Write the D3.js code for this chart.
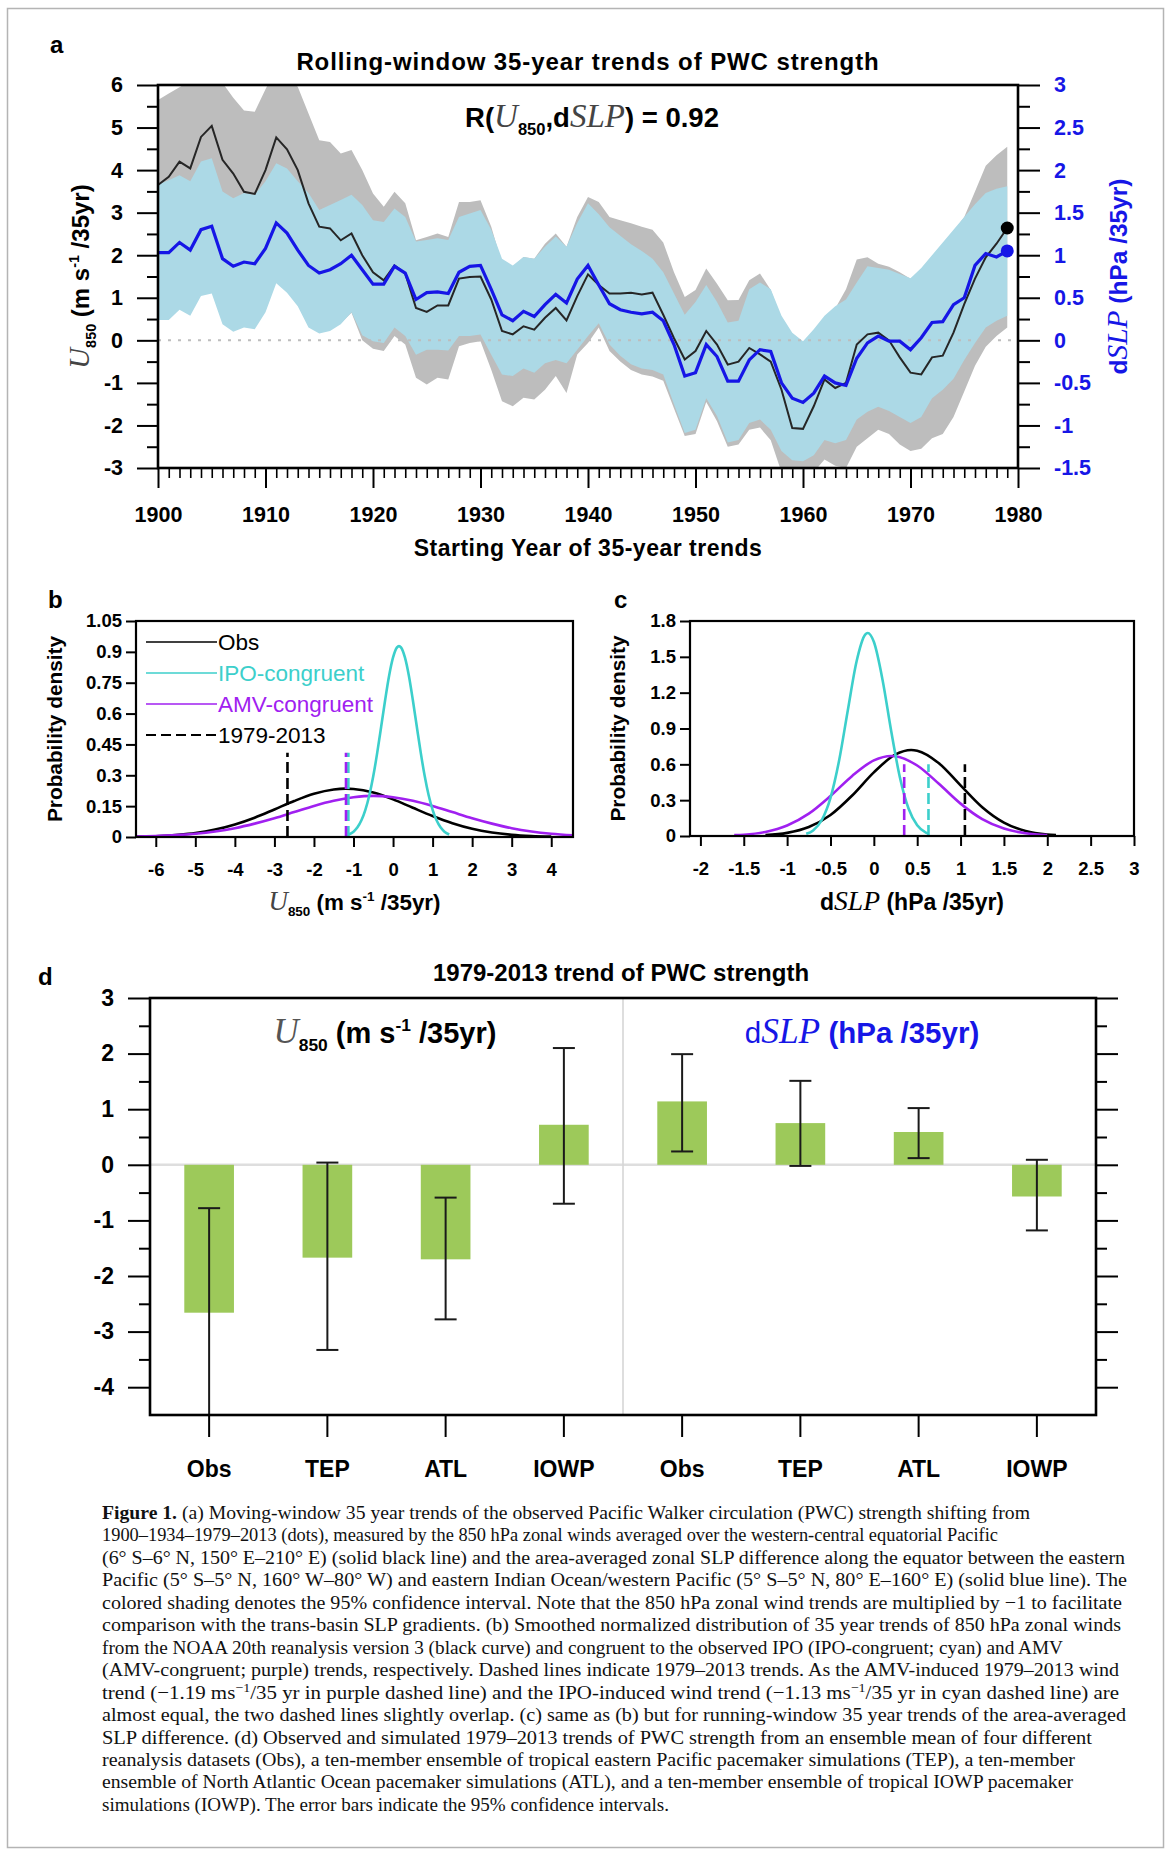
<!DOCTYPE html>
<html>
<head>
<meta charset="utf-8">
<script src="https://cdn.jsdelivr.net/npm/d3@7"></script>
<style>
  body { margin: 0; background: #fff; }
</style>
</head>
<body>
<svg id="fig" width="1171" height="1856" font-family="Liberation Sans, Arial, sans-serif"></svg>
<script>
// ---------- panel a : rolling 35-yr trends, one value per starting year 1900..1979
const startYears = d3.range(1900, 1980);
// U850 trend (m/s per 35yr) and its 95% interval
const u850 = [3.65, 3.84, 4.2, 4.04, 4.78, 5.04, 4.24, 3.92, 3.49, 3.44,
  4.0, 4.77, 4.49, 4.0, 3.22, 2.67, 2.63, 2.35, 2.51, 2.0,
  1.6, 1.41, 1.76, 1.57, 0.76, 0.67, 0.82, 0.82, 1.45, 1.49,
  1.5, 0.96, 0.22, 0.14, 0.33, 0.25, 0.53, 0.76, 0.47, 1.04,
  1.55, 1.3, 1.1, 1.1, 1.12, 1.08, 1.12, 0.6, 0.05, -0.45,
  -0.25, 0.22, -0.1, -0.57, -0.5, -0.18, -0.33, -0.5, -1.16, -2.06,
  -2.08, -1.55, -0.92, -1.12, -1.0, -0.1, 0.14, 0.18, 0.0, -0.4,
  -0.76, -0.8, -0.4, -0.36, 0.18, 0.85, 1.45, 1.95, 2.27, 2.64];
const u850Hi = [5.65, 5.8, 5.95, 6.1, 6.3, 6.4, 6.05, 5.7, 5.4, 5.37,
  5.9, 6.4, 6.2, 5.96, 5.33, 4.7, 4.66, 4.39, 4.47, 4.0,
  3.45, 3.14, 3.49, 3.22, 2.35, 2.43, 2.51, 2.43, 3.25, 3.25,
  3.29, 2.67, 1.8, 1.73, 1.96, 1.92, 2.27, 2.51, 2.2, 2.9,
  3.37, 3.25, 2.9, 2.82, 2.75, 2.67, 2.6, 2.3, 1.6, 1.02,
  1.18, 1.69, 1.33, 0.94, 0.95, 1.41, 1.57, 1.18, 0.5, 0.1,
  -0.1, 0.2, 0.5, 0.75, 1.2, 1.9, 1.95, 1.8, 1.73, 1.6,
  1.45, 1.65, 1.95, 2.2, 2.55, 2.9, 3.5, 4.1, 4.35, 4.55];
const u850Lo = [0.55, 0.55, 0.8, 0.65, 1.1, 1.2, 0.45, 0.3, 0.35, 0.3,
  0.7, 1.4, 1.2, 0.85, 0.35, 0.2, 0.25, 0.4, 0.65, 0.0,
  -0.2, -0.25, 0.1, -0.1, -0.88, -1.04, -0.88, -0.92, -0.14, -0.06,
  -0.02, -0.69, -1.43, -1.55, -1.35, -1.39, -1.16, -0.84, -1.24, -0.33,
  -0.06, 0.3, -0.25, -0.5, -0.7, -0.8, -0.85, -0.95, -1.6, -2.25,
  -2.2, -1.45, -1.9, -2.5, -2.45, -2.1, -2.05, -2.35, -3.1, -3.35,
  -3.35, -3.1, -2.8, -2.95, -3.0, -2.5, -2.3, -2.1, -2.2, -2.45,
  -2.6, -2.55, -2.3, -2.2, -1.8, -1.2, -0.6, -0.15, 0.1, 0.3];
// dSLP trend (hPa per 35yr) and its 95% interval
const dslp = [1.03, 1.03, 1.15, 1.06, 1.30, 1.34, 0.96, 0.87, 0.92, 0.90,
  1.08, 1.38, 1.26, 1.06, 0.88, 0.79, 0.83, 0.90, 1.00, 0.83,
  0.66, 0.66, 0.87, 0.79, 0.48, 0.56, 0.57, 0.55, 0.80, 0.87,
  0.88, 0.60, 0.30, 0.23, 0.34, 0.28, 0.42, 0.54, 0.44, 0.72,
  0.88, 0.65, 0.43, 0.36, 0.33, 0.31, 0.33, 0.23, -0.05, -0.42,
  -0.38, -0.05, -0.19, -0.48, -0.48, -0.23, -0.11, -0.13, -0.50, -0.68,
  -0.73, -0.62, -0.42, -0.50, -0.53, -0.21, -0.03, 0.05, -0.01, -0.01,
  -0.11, 0.03, 0.21, 0.22, 0.42, 0.50, 0.88, 1.02, 0.98, 1.05];
const dslpHi = [1.83, 1.88, 1.94, 1.87, 2.10, 2.14, 1.75, 1.67, 1.73, 1.71,
  1.87, 2.08, 2.02, 1.87, 1.73, 1.53, 1.59, 1.65, 1.71, 1.59,
  1.41, 1.39, 1.55, 1.45, 1.16, 1.18, 1.20, 1.18, 1.45, 1.49,
  1.53, 1.30, 0.96, 0.88, 0.98, 0.96, 1.10, 1.22, 1.10, 1.38,
  1.61, 1.48, 1.33, 1.23, 1.13, 1.05, 0.96, 0.80, 0.55, 0.30,
  0.45, 0.65, 0.45, 0.21, 0.23, 0.60, 0.68, 0.60, 0.29, 0.09,
  -0.01, 0.13, 0.29, 0.40, 0.48, 0.68, 0.87, 0.85, 0.83, 0.78,
  0.73, 0.85, 1.00, 1.15, 1.30, 1.45, 1.60, 1.73, 1.78, 1.81];
const dslpLo = [0.24, 0.24, 0.36, 0.29, 0.52, 0.55, 0.19, 0.10, 0.15, 0.13,
  0.33, 0.67, 0.56, 0.40, 0.15, 0.08, 0.11, 0.19, 0.33, 0.06,
  -0.01, -0.03, 0.15, 0.05, -0.17, -0.11, -0.11, -0.12, 0.05, 0.05,
  0.07, -0.17, -0.40, -0.42, -0.33, -0.38, -0.27, -0.23, -0.27, -0.11,
  0.05, 0.20, -0.05, -0.18, -0.28, -0.33, -0.35, -0.40, -0.75, -1.09,
  -1.05, -0.68, -0.89, -1.20, -1.17, -0.97, -0.93, -1.05, -1.30, -1.41,
  -1.42, -1.35, -1.17, -1.21, -1.17, -0.93, -0.84, -0.78, -0.83, -0.90,
  -0.97, -0.90, -0.68, -0.58, -0.45, -0.23, -0.03, 0.15, 0.23, 0.29];

// ---------- panel b : distributions of U850 trends, [trend, density]
const bObs = [[-6.5,0.002],[-6,0.004],[-5.5,0.010],[-5,0.019],[-4.5,0.036],[-4,0.061],[-3.5,0.094],[-3,0.134],
  [-2.5,0.175],[-2,0.210],[-1.5,0.231],[-1.2,0.235],[-1,0.233],[-0.5,0.216],[0,0.183],[0.5,0.142],[1,0.102],
  [1.5,0.067],[2,0.040],[2.5,0.022],[3,0.011],[3.5,0.005],[4,0.002]];
const bIpo = [[-1.12,0.012],[-1.0,0.026],[-0.9,0.047],[-0.8,0.081],[-0.7,0.132],[-0.6,0.203],[-0.5,0.296],
  [-0.4,0.410],[-0.3,0.537],[-0.2,0.666],[-0.1,0.784],[0,0.873],[0.1,0.922],[0.15,0.928],[0.2,0.922],[0.3,0.873],
  [0.4,0.784],[0.5,0.666],[0.6,0.537],[0.7,0.410],[0.8,0.296],[0.9,0.203],[1.0,0.132],[1.1,0.081],[1.2,0.047],
  [1.3,0.026],[1.42,0.012]];
const bAmv = [[-6.5,0.002],[-6,0.005],[-5.5,0.009],[-5,0.016],[-4.5,0.027],[-4,0.043],[-3.5,0.065],[-3,0.091],
  [-2.5,0.121],[-2,0.151],[-1.5,0.176],[-1,0.193],[-0.5,0.200],[0,0.193],[0.5,0.176],[1,0.151],[1.5,0.121],
  [2,0.091],[2.5,0.065],[3,0.043],[3.5,0.027],[4,0.016],[4.55,0.008]];
// 1979-2013 trends (dashed): obs, IPO-, AMV-congruent
const bRecent = [-2.67, -1.13, -1.19];

// ---------- panel c : distributions of dSLP trends
const cObs = [[-1.25,0.007],[-1,0.026],[-0.75,0.075],[-0.5,0.176],[-0.25,0.339],[0,0.533],[0.25,0.683],[0.43,0.720],
  [0.5,0.714],[0.75,0.609],[1,0.424],[1.25,0.241],[1.5,0.112],[1.75,0.042],[2,0.013],[2.1,0.008]];
const cIpo = [[-0.78,0.018],[-0.7,0.047],[-0.6,0.134],[-0.5,0.319],[-0.4,0.634],[-0.3,1.053],[-0.2,1.459],[-0.1,1.686],
  [-0.07,1.700],[0,1.626],[0.1,1.309],[0.2,0.879],[0.3,0.492],[0.4,0.230],[0.5,0.090],[0.6,0.029],[0.63,0.020]];
const cAmv = [[-1.61,0.007],[-1.5,0.011],[-1.25,0.034],[-1,0.088],[-0.75,0.187],[-0.5,0.335],[-0.25,0.503],[0,0.633],
  [0.2,0.670],[0.25,0.668],[0.5,0.590],[0.75,0.437],[1,0.271],[1.25,0.141],[1.5,0.062],[1.75,0.023],[2,0.007]];
const cRecent = [1.05, 0.63, 0.35];

// ---------- panel d : 1979-2013 trends with 95% intervals
const dCats = ["Obs", "TEP", "ATL", "IOWP", "Obs", "TEP", "ATL", "IOWP"];
const dTrend = [-2.66, -1.67, -1.70, 0.72, 1.14, 0.75, 0.59, -0.57];
const dLow = [-4.5, -3.33, -2.78, -0.70, 0.24, -0.02, 0.12, -1.18];
const dHigh = [-0.78, 0.04, -0.59, 2.10, 1.99, 1.51, 1.02, 0.09];

const BLUE = "#1616e6", CYAN = "#3ccfcb", PURPLE = "#a020f0", GREEN = "#9dc95a";
const SANS = "Liberation Sans, Arial, sans-serif", SERIF = "Liberation Serif, Times New Roman, serif";
const num = d => String(d);

const svg = d3.select("#fig");
svg.append("rect").attr("width", 1171).attr("height", 1856).attr("fill", "#fff");
svg.append("rect").attr("x", 7.5).attr("y", 8.5).attr("width", 1156).attr("height", 1839)
  .attr("fill", "none").attr("stroke", "#b4b4b4").attr("stroke-width", 1.5);

// text with math-italic / sub / sup pieces
function rich(t, parts, size) {
  let shift = 0;
  parts.forEach(p => {
    const ts = t.append("tspan").text(p.t);
    const target = p.sub ? size * 0.28 : p.sup ? -size * 0.42 : 0;
    if (target - shift !== 0) ts.attr("dy", target - shift);
    shift = target;
    if (p.sub || p.sup) ts.attr("font-size", size * 0.6);
    if (p.math) ts.attr("font-family", SERIF).attr("font-style", "italic").attr("font-weight", "normal")
      .attr("font-size", size * 1.2);
    if (p.fill) ts.attr("fill", p.fill);
    if (p.w) ts.attr("font-weight", p.w);
  });
  return t;
}
const uParts = (mfill) => [{t: "U", math: true, fill: mfill}, {t: "850", sub: true}, {t: " (m s"},
  {t: "-1", sup: true}, {t: " /35yr)"}];
const sParts = (dw) => [{t: "d", w: dw}, {t: "SLP", math: true}, {t: " (hPa /35yr)"}];

function styleAxis(g, size, color) {
  g.select(".domain").remove();
  g.attr("font-family", SANS).attr("font-size", size).attr("font-weight", "bold");
  g.selectAll(".tick line").attr("stroke", "#000").attr("stroke-width", 2);
  g.selectAll(".tick text").attr("fill", color || "#000");
  return g;
}
function panelLabel(txt, x, y) {
  svg.append("text").attr("x", x).attr("y", y).attr("font-size", 24).attr("font-weight", "bold").text(txt);
}

// ================= panel a =================
const A = {l: 158, r: 1018, t: 85, b: 468};
const xA = d3.scaleLinear().domain([1900, 1980]).range([A.l, A.r]);
const yU = d3.scaleLinear().domain([-3, 6]).range([A.b, A.t]);
const yS = d3.scaleLinear().domain([-1.5, 3]).range([A.b, A.t]);

svg.append("clipPath").attr("id", "clipA").append("rect")
  .attr("x", A.l).attr("y", A.t).attr("width", A.r - A.l).attr("height", A.b - A.t);
const gA = svg.append("g").attr("clip-path", "url(#clipA)");
gA.append("path").datum(startYears).attr("fill", "#bdbdbd")
  .attr("d", d3.area().x(d => xA(d)).y0((d, i) => yU(u850Lo[i])).y1((d, i) => yU(u850Hi[i])));
gA.append("path").datum(startYears).attr("fill", "#acd9e6")
  .attr("d", d3.area().x(d => xA(d)).y0((d, i) => yS(dslpLo[i])).y1((d, i) => yS(dslpHi[i])));
gA.append("line").attr("x1", A.l).attr("x2", A.r).attr("y1", yU(0)).attr("y2", yU(0))
  .attr("stroke", "#bdbdbd").attr("stroke-width", 2).attr("stroke-dasharray", "3,7");
gA.append("path").datum(startYears).attr("fill", "none").attr("stroke", "#262626").attr("stroke-width", 2)
  .attr("d", d3.line().x(d => xA(d)).y((d, i) => yU(u850[i])));
gA.append("path").datum(startYears).attr("fill", "none").attr("stroke", BLUE).attr("stroke-width", 3.2)
  .attr("d", d3.line().x(d => xA(d)).y((d, i) => yS(dslp[i])));
const last = startYears.length - 1;
svg.append("circle").attr("cx", xA(startYears[last])).attr("cy", yU(u850[last])).attr("r", 6.5).attr("fill", "#000");
svg.append("circle").attr("cx", xA(startYears[last])).attr("cy", yS(dslp[last])).attr("r", 6.5).attr("fill", BLUE);

styleAxis(svg.append("g").attr("transform", `translate(${A.l},0)`)
  .call(d3.axisLeft(yU).tickValues(d3.range(-3, 7)).tickSize(21).tickPadding(14).tickFormat(num)), 21.5);
styleAxis(svg.append("g").attr("transform", `translate(${A.l},0)`)
  .call(d3.axisLeft(yU).tickValues(d3.range(-2.5, 6, 1)).tickSize(11).tickFormat("")), 21.5);
styleAxis(svg.append("g").attr("transform", `translate(${A.r},0)`)
  .call(d3.axisRight(yS).tickValues([-1.5, -1, -0.5, 0, 0.5, 1, 1.5, 2, 2.5, 3]).tickSize(22).tickPadding(14).tickFormat(num)), 21.5, BLUE);
styleAxis(svg.append("g").attr("transform", `translate(${A.r},0)`)
  .call(d3.axisRight(yS).tickValues(d3.range(-1.25, 3, 0.5)).tickSize(12).tickFormat("")), 21.5);
styleAxis(svg.append("g").attr("transform", `translate(0,${A.b})`)
  .call(d3.axisBottom(xA).tickValues(d3.range(1900, 1981, 10)).tickSize(20).tickPadding(19).tickFormat(d3.format("d"))), 21.5);
styleAxis(svg.append("g").attr("transform", `translate(0,${A.b})`)
  .call(d3.axisBottom(xA).tickValues(startYears.filter(y => y % 10 !== 0)).tickSize(10).tickFormat("")), 21.5)
  .selectAll(".tick line").attr("stroke-width", 1.6);
svg.append("rect").attr("x", A.l).attr("y", A.t).attr("width", A.r - A.l).attr("height", A.b - A.t)
  .attr("fill", "none").attr("stroke", "#000").attr("stroke-width", 2.6);

panelLabel("a", 50, 53);
svg.append("text").attr("x", (A.l + A.r) / 2).attr("y", 70).attr("text-anchor", "middle")
  .attr("font-size", 24).attr("letter-spacing", 0.9).attr("font-weight", "bold")
  .text("Rolling-window 35-year trends of PWC strength");
rich(svg.append("text").attr("x", 592).attr("y", 127).attr("text-anchor", "middle")
  .attr("font-size", 27.5).attr("font-weight", "bold"),
  [{t: "R("}, {t: "U", math: true, fill: "#444"}, {t: "850", sub: true}, {t: ","}, {t: "d"},
   {t: "SLP", math: true, fill: "#444"}, {t: ") = 0.92"}], 27.5);
rich(svg.append("text").attr("transform", `translate(89,${(A.t + A.b) / 2}) rotate(-90)`).attr("text-anchor", "middle")
  .attr("font-size", 24).attr("font-weight", "bold"), uParts("#444"), 24);
rich(svg.append("text").attr("transform", `translate(1127,${(A.t + A.b) / 2}) rotate(-90)`).attr("text-anchor", "middle")
  .attr("font-size", 24.5).attr("font-weight", "bold").attr("fill", BLUE), sParts("bold"), 24.5);
svg.append("text").attr("x", (A.l + A.r) / 2).attr("y", 556).attr("text-anchor", "middle")
  .attr("font-size", 23).attr("letter-spacing", 0.5).attr("font-weight", "bold").text("Starting Year of 35-year trends");

// ================= panels b, c =================
function distPanel(box, xDom, yDom, xTicks, yTicks, curves, recent, dashTop, titleOff) {
  const x = d3.scaleLinear().domain(xDom).range([box.l, box.r]);
  const y = d3.scaleLinear().domain(yDom).range([box.b, box.t]);
  const line = d3.line().curve(d3.curveMonotoneX).x(d => x(d[0])).y(d => y(d[1]));
  const g = svg.append("g");
  curves.forEach(c => g.append("path").datum(c.data).attr("fill", "none").attr("stroke", c.color)
    .attr("stroke-width", 2.6).attr("d", line));
  const dashColors = ["#000", CYAN, PURPLE];
  recent.forEach((v, i) => g.append("line").attr("x1", x(v)).attr("x2", x(v)).attr("y1", y(0)).attr("y2", y(dashTop))
    .attr("stroke", dashColors[i]).attr("stroke-width", 2.6).attr("stroke-dasharray", "11,5"));
  styleAxis(svg.append("g").attr("transform", `translate(${box.l},0)`)
    .call(d3.axisLeft(y).tickValues(yTicks).tickSize(10).tickPadding(4).tickFormat(num)), 18.5);
  styleAxis(svg.append("g").attr("transform", `translate(0,${box.b})`)
    .call(d3.axisBottom(x).tickValues(xTicks).tickSize(10).tickPadding(16).tickFormat(num)), 18.5);
  svg.append("rect").attr("x", box.l).attr("y", box.t).attr("width", box.r - box.l).attr("height", box.b - box.t)
    .attr("fill", "none").attr("stroke", "#000").attr("stroke-width", 2.2);
  svg.append("text").attr("transform", `translate(${box.l - titleOff},${(box.t + box.b) / 2}) rotate(-90)`)
    .attr("text-anchor", "middle").attr("font-size", 20.8).attr("font-weight", "bold").text("Probability density");
  return {x, y};
}

const B = {l: 136, r: 573, t: 621, b: 837};
distPanel(B, [-6.5, 4.55], [0, 1.05], d3.range(-6, 5), [0, 0.15, 0.3, 0.45, 0.6, 0.75, 0.9, 1.05],
  [{data: bObs, color: "#000"}, {data: bAmv, color: PURPLE}, {data: bIpo, color: CYAN}], bRecent, 0.41, 74);
panelLabel("b", 48, 608);
rich(svg.append("text").attr("x", (B.l + B.r) / 2).attr("y", 910).attr("text-anchor", "middle")
  .attr("font-size", 22.4).attr("font-weight", "bold"), uParts("#444"), 22.4);
// legend
const legend = [{t: "Obs", c: "#000"}, {t: "IPO-congruent", c: CYAN}, {t: "AMV-congruent", c: PURPLE},
  {t: "1979-2013", c: "#000", dash: true}];
legend.forEach((d, i) => {
  const yy = 642 + i * 31;
  svg.append("line").attr("x1", 146).attr("x2", 217).attr("y1", yy).attr("y2", yy).attr("stroke", d.c)
    .attr("stroke-width", d.dash ? 2 : 1.4).attr("stroke-dasharray", d.dash ? "10,5" : null);
  svg.append("text").attr("x", 218).attr("y", yy + 8).attr("font-size", 22.5).attr("fill", d.c).text(d.t);
});

const C = {l: 690, r: 1134, t: 621, b: 836};
distPanel(C, [-2.12, 3], [0, 1.8], [-2, -1.5, -1, -0.5, 0, 0.5, 1, 1.5, 2, 2.5, 3], [0, 0.3, 0.6, 0.9, 1.2, 1.5, 1.8],
  [{data: cObs, color: "#000"}, {data: cAmv, color: PURPLE}, {data: cIpo, color: CYAN}], cRecent, 0.6, 65);
panelLabel("c", 614, 608);
rich(svg.append("text").attr("x", (C.l + C.r) / 2).attr("y", 910).attr("text-anchor", "middle")
  .attr("font-size", 23).attr("font-weight", "bold"), sParts("bold"), 23);

// ================= panel d =================
const D = {l: 150, r: 1096, t: 998, b: 1415};
const xD = d3.scaleBand().domain(d3.range(dCats.length)).range([D.l, D.r]).paddingInner(0.58).paddingOuter(0.29);
const yD = d3.scaleLinear().domain([-4.5, 3]).range([D.b, D.t]);
const gD = svg.append("g");
gD.append("line").attr("x1", D.l).attr("x2", D.r).attr("y1", yD(0)).attr("y2", yD(0)).attr("stroke", "#dedede").attr("stroke-width", 2.5);
const sepX = (xD(3) + xD.bandwidth() + xD(4)) / 2;
gD.append("line").attr("x1", sepX).attr("x2", sepX).attr("y1", D.t).attr("y2", D.b).attr("stroke", "#d6d6d6").attr("stroke-width", 1.6);
gD.selectAll("rect.bar").data(dTrend).join("rect").attr("class", "bar")
  .attr("x", (d, i) => xD(i)).attr("width", xD.bandwidth())
  .attr("y", d => yD(Math.max(0, d))).attr("height", d => Math.abs(yD(d) - yD(0))).attr("fill", GREEN);
const cx = i => xD(i) + xD.bandwidth() / 2;
dTrend.forEach((d, i) => {
  const e = gD.append("g").attr("stroke", "#1a1a1a").attr("stroke-width", 2);
  e.append("line").attr("x1", cx(i)).attr("x2", cx(i)).attr("y1", yD(dLow[i])).attr("y2", yD(dHigh[i]));
  [dLow[i], dHigh[i]].forEach(v => e.append("line").attr("x1", cx(i) - 11).attr("x2", cx(i) + 11)
    .attr("y1", yD(v)).attr("y2", yD(v)));
});
styleAxis(svg.append("g").attr("transform", `translate(${D.l},0)`)
  .call(d3.axisLeft(yD).tickValues(d3.range(-4, 4)).tickSize(22).tickPadding(14).tickFormat(num)), 23);
styleAxis(svg.append("g").attr("transform", `translate(${D.l},0)`)
  .call(d3.axisLeft(yD).tickValues(d3.range(-3.5, 3, 1)).tickSize(11).tickFormat("")), 23);
styleAxis(svg.append("g").attr("transform", `translate(${D.r},0)`)
  .call(d3.axisRight(yD).tickValues(d3.range(-4, 4)).tickSize(22).tickFormat("")), 23);
styleAxis(svg.append("g").attr("transform", `translate(${D.r},0)`)
  .call(d3.axisRight(yD).tickValues(d3.range(-3.5, 3, 1)).tickSize(11).tickFormat("")), 23);
styleAxis(svg.append("g").attr("transform", `translate(0,${D.b})`)
  .call(d3.axisBottom(xD).tickSize(22).tickPadding(24).tickFormat(i => dCats[i])), 23);
svg.append("rect").attr("x", D.l).attr("y", D.t).attr("width", D.r - D.l).attr("height", D.b - D.t)
  .attr("fill", "none").attr("stroke", "#000").attr("stroke-width", 2.6);
panelLabel("d", 38, 985);
svg.append("text").attr("x", 621).attr("y", 981).attr("text-anchor", "middle").attr("font-size", 24)
  .attr("font-weight", "bold").text("1979-2013 trend of PWC strength");
rich(svg.append("text").attr("x", 385).attr("y", 1043).attr("text-anchor", "middle")
  .attr("font-size", 29).attr("font-weight", "bold"), uParts("#555"), 29);
rich(svg.append("text").attr("x", 862).attr("y", 1043).attr("text-anchor", "middle")
  .attr("font-size", 29.5).attr("font-weight", "bold").attr("fill", BLUE), sParts("normal"), 29.5);

// ================= caption =================
const caption = [
  [["Figure 1.", "b"], [" (a) Moving-window 35 year trends of the observed Pacific Walker circulation (PWC) strength shifting from"]],
  [["1900–1934–1979–2013 (dots), measured by the 850 hPa zonal winds averaged over the western-central equatorial Pacific"]],
  [["(6° S–6° N, 150° E–210° E) (solid black line) and the area-averaged zonal SLP difference along the equator between the eastern"]],
  [["Pacific (5° S–5° N, 160° W–80° W) and eastern Indian Ocean/western Pacific (5° S–5° N, 80° E–160° E) (solid blue line). The"]],
  [["colored shading denotes the 95% confidence interval. Note that the 850 hPa zonal wind trends are multiplied by −1 to facilitate"]],
  [["comparison with the trans-basin SLP gradients. (b) Smoothed normalized distribution of 35 year trends of 850 hPa zonal winds"]],
  [["from the NOAA 20th reanalysis version 3 (black curve) and congruent to the observed IPO (IPO-congruent; cyan) and AMV"]],
  [["(AMV-congruent; purple) trends, respectively. Dashed lines indicate 1979–2013 trends. As the AMV-induced 1979–2013 wind"]],
  [["trend (−1.19 ms"], ["−1", "sup"], ["/35 yr in purple dashed line) and the IPO-induced wind trend (−1.13 ms"], ["−1", "sup"],
   ["/35 yr in cyan dashed line) are"]],
  [["almost equal, the two dashed lines slightly overlap. (c) same as (b) but for running-window 35 year trends of the area-averaged"]],
  [["SLP difference. (d) Observed and simulated 1979–2013 trends of PWC strength from an ensemble mean of four different"]],
  [["reanalysis datasets (Obs), a ten-member ensemble of tropical eastern Pacific pacemaker simulations (TEP), a ten-member"]],
  [["ensemble of North Atlantic Ocean pacemaker simulations (ATL), and a ten-member ensemble of tropical IOWP pacemaker"]],
  [["simulations (IOWP). The error bars indicate the 95% confidence intervals."]]
];
// right end of each caption line in the page (the typeset paragraph is ragged)
const capEnds = [1030, 998, 1125, 1127, 1122, 1121, 1063, 1119, 1119, 1126, 1092, 1075, 1073, 669];
const capLeft = 102;
caption.forEach((segs, i) => {
  const t = svg.append("text").attr("x", capLeft).attr("y", 1519 + i * 22.45)
    .attr("font-family", SERIF).attr("font-size", 19.5).attr("fill", "#111")
    .attr("textLength", capEnds[i] - capLeft).attr("lengthAdjust", "spacingAndGlyphs");
  let up = false;
  segs.forEach(([s, kind]) => {
    const ts = t.append("tspan").text(s);
    if (kind === "b") ts.attr("font-weight", "bold");
    if (kind === "sup") { ts.attr("dy", -7).attr("font-size", 13); up = true; }
    else if (up) { ts.attr("dy", 7); up = false; }
  });
});
</script>
</body>
</html>
